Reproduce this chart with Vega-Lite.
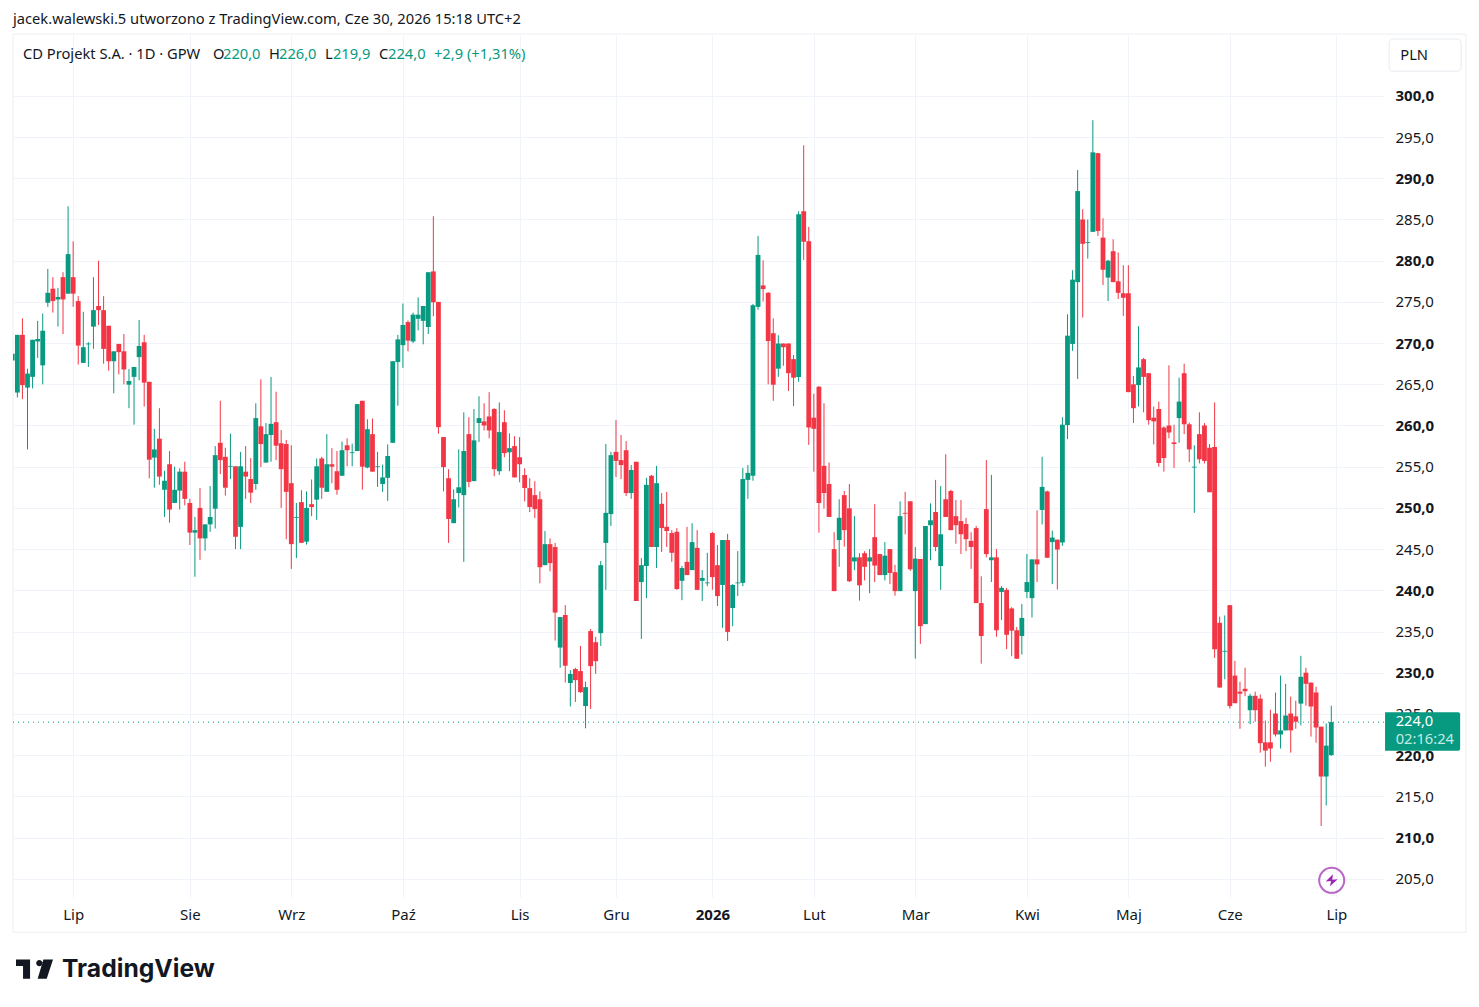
{
  "$schema": "https://vega.github.io/schema/vega-lite/v6.json",
  "background": "#ffffff",
  "autosize": {"type": "none"},
  "padding": {"left": 13, "top": 35, "right": 95, "bottom": 110},
  "width": 1371,
  "height": 862,
  "config": {"view": {"stroke": null}, "text": {"font": "Noto Sans"}},
  "datasets": {
    "candles": [
      {"i":0,"o":267.9,"h":268.7,"l":267.9,"c":268.7},{"i":1,"o":264.0,"h":271.0,"l":263.4,"c":271.0},{"i":2,"o":271.0,"h":273.0,"l":263.2,"c":264.9},{"i":3,"o":264.6,"h":266.9,"l":257.1,"c":266.3},{"i":4,"o":265.9,"h":270.4,"l":264.5,"c":270.4},{"i":5,"o":270.2,"h":272.7,"l":268.2,"c":270.5},{"i":6,"o":267.3,"h":273.6,"l":265.0,"c":271.5},{"i":7,"o":274.9,"h":279.0,"l":274.4,"c":276.1},{"i":8,"o":276.6,"h":278.0,"l":273.7,"c":275.1},{"i":9,"o":275.3,"h":276.7,"l":272.0,"c":275.6},
      {"i":10,"o":278.0,"h":278.6,"l":271.1,"c":275.3},{"i":11,"o":276.0,"h":286.6,"l":276.0,"c":280.8},{"i":12,"o":278.0,"h":282.35,"l":274.4,"c":276.0},{"i":13,"o":275.1,"h":275.7,"l":267.4,"c":269.7},{"i":14,"o":267.6,"h":273.8,"l":267.6,"c":269.5},{"i":15,"o":269.85,"h":270.1,"l":267.1,"c":269.95},{"i":16,"o":272.0,"h":278.0,"l":269.3,"c":274.0},{"i":17,"o":274.5,"h":280.0,"l":272.2,"c":274.0},{"i":18,"o":274.0,"h":275.7,"l":267.5,"c":269.3},{"i":19,"o":272.1,"h":272.1,"l":266.65,"c":267.8},
      {"i":20,"o":267.8,"h":269.0,"l":263.9,"c":269.0},{"i":21,"o":269.9,"h":269.9,"l":266.2,"c":268.9},{"i":22,"o":269.0,"h":271.1,"l":265.0,"c":266.8},{"i":23,"o":264.95,"h":266.85,"l":262.1,"c":265.4},{"i":24,"o":265.9,"h":267.1,"l":260.1,"c":267.1},{"i":25,"o":268.3,"h":272.8,"l":265.5,"c":269.65},{"i":26,"o":270.1,"h":271.0,"l":262.3,"c":265.2},{"i":27,"o":265.3,"h":265.3,"l":253.6,"c":255.85},{"i":28,"o":256.1,"h":259.6,"l":252.45,"c":257.1},{"i":29,"o":258.4,"h":262.1,"l":252.8,"c":253.8},
      {"i":30,"o":252.2,"h":254.5,"l":248.9,"c":253.3},{"i":31,"o":255.3,"h":256.9,"l":248.2,"c":249.8},{"i":32,"o":250.6,"h":255.0,"l":250.6,"c":252.2},{"i":33,"o":252.1,"h":254.8,"l":249.8,"c":254.4},{"i":34,"o":254.4,"h":255.6,"l":250.3,"c":251.1},{"i":35,"o":250.6,"h":251.1,"l":245.5,"c":247.0},{"i":36,"o":247.0,"h":248.9,"l":241.65,"c":247.3},{"i":37,"o":250.0,"h":252.4,"l":243.7,"c":246.3},{"i":38,"o":246.3,"h":248.0,"l":244.8,"c":248.0},{"i":39,"o":248.0,"h":252.65,"l":247.1,"c":248.9},
      {"i":40,"o":249.9,"h":257.5,"l":247.5,"c":256.4},{"i":41,"o":257.9,"h":263.0,"l":254.1,"c":255.8},{"i":42,"o":256.2,"h":257.3,"l":251.5,"c":252.45},{"i":43,"o":255.0,"h":259.0,"l":253.5,"c":255.1},{"i":44,"o":255.05,"h":255.05,"l":245.0,"c":246.5},{"i":45,"o":247.7,"h":256.8,"l":245.0,"c":255.05},{"i":46,"o":254.4,"h":257.5,"l":251.1,"c":253.8},{"i":47,"o":253.5,"h":256.05,"l":250.6,"c":251.85},{"i":48,"o":252.9,"h":262.7,"l":252.2,"c":260.9},{"i":49,"o":259.9,"h":265.6,"l":254.95,"c":257.75},
      {"i":50,"o":255.5,"h":260.3,"l":255.5,"c":258.95},{"i":51,"o":258.85,"h":265.9,"l":255.6,"c":260.2},{"i":52,"o":260.4,"h":264.1,"l":255.8,"c":257.55},{"i":53,"o":257.85,"h":259.45,"l":250.0,"c":254.7},{"i":54,"o":257.75,"h":258.25,"l":246.2,"c":251.95},{"i":55,"o":253.0,"h":257.6,"l":242.6,"c":245.6},{"i":56,"o":248.8,"h":250.6,"l":243.9,"c":248.9},{"i":57,"o":250.7,"h":252.15,"l":245.76,"c":245.76},{"i":58,"o":245.9,"h":252.0,"l":245.55,"c":250.0},{"i":59,"o":250.45,"h":253.45,"l":249.0,"c":250.1},
      {"i":60,"o":251.0,"h":256.0,"l":248.55,"c":255.05},{"i":61,"o":256.0,"h":256.2,"l":251.1,"c":252.45},{"i":62,"o":251.95,"h":258.95,"l":251.95,"c":255.3},{"i":63,"o":255.3,"h":257.25,"l":253.0,"c":255.0},{"i":64,"o":254.45,"h":256.9,"l":251.6,"c":252.2},{"i":65,"o":253.9,"h":258.05,"l":253.9,"c":257.0},{"i":66,"o":257.6,"h":258.45,"l":255.05,"c":257.0},{"i":67,"o":256.65,"h":257.8,"l":255.05,"c":256.75},{"i":68,"o":256.9,"h":262.6,"l":256.9,"c":262.6},{"i":69,"o":263.0,"h":263.0,"l":252.2,"c":255.0},
      {"i":70,"o":254.9,"h":260.75,"l":254.8,"c":259.55},{"i":71,"o":258.95,"h":260.85,"l":254.4,"c":254.4},{"i":72,"o":254.95,"h":256.8,"l":252.55,"c":255.05},{"i":73,"o":252.9,"h":255.25,"l":251.95,"c":253.7},{"i":74,"o":253.65,"h":257.7,"l":250.85,"c":256.3},{"i":75,"o":257.9,"h":267.8,"l":257.9,"c":267.8},{"i":76,"o":267.7,"h":271.0,"l":262.4,"c":270.45},{"i":77,"o":269.75,"h":274.8,"l":267.0,"c":272.2},{"i":78,"o":272.55,"h":272.75,"l":269.0,"c":270.3},{"i":79,"o":270.2,"h":273.7,"l":270.0,"c":273.45},
      {"i":80,"o":272.95,"h":275.55,"l":271.55,"c":273.45},{"i":81,"o":272.7,"h":274.5,"l":269.85,"c":274.5},{"i":82,"o":271.95,"h":278.6,"l":271.1,"c":278.6},{"i":83,"o":278.7,"h":285.4,"l":273.25,"c":274.95},{"i":84,"o":275.0,"h":275.0,"l":259.0,"c":259.8},{"i":85,"o":258.6,"h":258.6,"l":252.0,"c":254.95},{"i":86,"o":253.6,"h":254.7,"l":245.75,"c":248.65},{"i":87,"o":248.15,"h":252.25,"l":248.15,"c":251.05},{"i":88,"o":251.8,"h":257.1,"l":250.05,"c":252.5},{"i":89,"o":251.55,"h":261.6,"l":243.45,"c":256.9},
      {"i":90,"o":258.95,"h":261.0,"l":252.5,"c":253.15},{"i":91,"o":253.25,"h":262.0,"l":253.25,"c":258.2},{"i":92,"o":260.3,"h":263.55,"l":258.0,"c":260.9},{"i":93,"o":260.5,"h":262.7,"l":259.4,"c":260.0},{"i":94,"o":261.1,"h":264.05,"l":258.45,"c":259.4},{"i":95,"o":262.0,"h":262.1,"l":253.85,"c":254.7},{"i":96,"o":254.45,"h":262.8,"l":254.0,"c":259.2},{"i":97,"o":260.4,"h":261.85,"l":256.15,"c":256.65},{"i":98,"o":256.75,"h":259.05,"l":254.45,"c":257.25},{"i":99,"o":257.5,"h":258.7,"l":253.7,"c":253.7},
      {"i":100,"o":256.15,"h":258.6,"l":253.1,"c":255.3},{"i":101,"o":254.0,"h":254.8,"l":250.8,"c":252.4},{"i":102,"o":252.4,"h":253.6,"l":249.5,"c":250.1},{"i":103,"o":251.55,"h":253.25,"l":248.75,"c":249.85},{"i":104,"o":251.05,"h":252.0,"l":240.85,"c":242.8},{"i":105,"o":243.05,"h":247.2,"l":243.05,"c":245.6},{"i":106,"o":245.6,"h":246.3,"l":242.3,"c":243.3},{"i":107,"o":245.25,"h":245.75,"l":233.9,"c":237.3},{"i":108,"o":233.05,"h":236.75,"l":230.6,"c":236.75},{"i":109,"o":237.0,"h":238.2,"l":228.8,"c":230.85},
      {"i":110,"o":228.75,"h":230.3,"l":225.9,"c":229.85},{"i":111,"o":230.45,"h":230.6,"l":226.45,"c":229.1},{"i":112,"o":230.2,"h":233.25,"l":227.55,"c":227.65},{"i":113,"o":225.95,"h":228.9,"l":223.25,"c":228.25},{"i":114,"o":235.05,"h":235.3,"l":225.6,"c":230.8},{"i":115,"o":233.7,"h":234.35,"l":229.85,"c":231.4},{"i":116,"o":234.8,"h":243.55,"l":233.25,"c":243.05},{"i":117,"o":245.75,"h":257.75,"l":240.05,"c":249.4},{"i":118,"o":249.25,"h":256.8,"l":247.8,"c":256.4},{"i":119,"o":256.8,"h":260.65,"l":253.75,"c":255.7},
      {"i":120,"o":255.8,"h":258.85,"l":253.5,"c":255.2},{"i":121,"o":257.0,"h":258.1,"l":251.45,"c":251.8},{"i":122,"o":251.8,"h":255.2,"l":251.1,"c":254.6},{"i":123,"o":255.6,"h":255.6,"l":238.7,"c":238.7},{"i":124,"o":241.0,"h":243.9,"l":234.1,"c":243.05},{"i":125,"o":242.95,"h":253.65,"l":239.05,"c":252.8},{"i":126,"o":253.9,"h":254.0,"l":245.25,"c":245.25},{"i":127,"o":245.25,"h":255.1,"l":242.7,"c":253.0},{"i":128,"o":250.5,"h":251.8,"l":244.65,"c":247.55},{"i":129,"o":247.7,"h":251.95,"l":245.25,"c":247.2},
      {"i":130,"o":246.95,"h":247.3,"l":243.45,"c":244.55},{"i":131,"o":247.1,"h":247.55,"l":240.05,"c":240.15},{"i":132,"o":241.15,"h":242.95,"l":238.8,"c":242.7},{"i":133,"o":243.45,"h":247.7,"l":241.85,"c":241.85},{"i":134,"o":242.45,"h":248.15,"l":242.45,"c":245.85},{"i":135,"o":245.15,"h":247.3,"l":240.05,"c":240.05},{"i":136,"o":241.15,"h":242.45,"l":238.7,"c":241.5},{"i":137,"o":240.85,"h":244.55,"l":240.5,"c":240.95},{"i":138,"o":246.95,"h":247.1,"l":240.05,"c":241.6},{"i":139,"o":243.05,"h":245.5,"l":238.1,"c":239.3},
      {"i":140,"o":240.65,"h":246.1,"l":235.45,"c":246.1},{"i":141,"o":246.1,"h":246.85,"l":233.85,"c":234.95},{"i":142,"o":237.85,"h":240.75,"l":235.65,"c":240.65},{"i":143,"o":240.85,"h":244.75,"l":239.3,"c":240.95},{"i":144,"o":240.9,"h":254.85,"l":240.5,"c":253.5},{"i":145,"o":253.4,"h":255.2,"l":251.1,"c":254.25},{"i":146,"o":253.9,"h":274.75,"l":253.3,"c":274.6},{"i":147,"o":274.4,"h":283.0,"l":274.05,"c":280.7},{"i":148,"o":277.0,"h":280.05,"l":275.05,"c":276.55},{"i":149,"o":276.1,"h":276.2,"l":265.0,"c":270.25},
      {"i":150,"o":271.2,"h":273.0,"l":263.0,"c":264.95},{"i":151,"o":266.9,"h":270.95,"l":265.9,"c":269.95},{"i":152,"o":269.95,"h":269.95,"l":267.25,"c":269.5},{"i":153,"o":269.95,"h":269.95,"l":264.2,"c":266.35},{"i":154,"o":268.05,"h":268.55,"l":262.35,"c":265.8},{"i":155,"o":265.9,"h":286.0,"l":265.3,"c":285.65},{"i":156,"o":286.0,"h":294.0,"l":280.1,"c":282.3},{"i":157,"o":282.35,"h":284.1,"l":257.65,"c":259.75},{"i":158,"o":260.95,"h":263.85,"l":254.4,"c":259.6},{"i":159,"o":264.7,"h":264.8,"l":247.0,"c":250.6},
      {"i":160,"o":255.1,"h":262.7,"l":249.9,"c":251.8},{"i":161,"o":252.9,"h":255.5,"l":248.9,"c":248.9},{"i":162,"o":245.0,"h":247.05,"l":239.9,"c":239.9},{"i":163,"o":246.1,"h":251.05,"l":242.85,"c":248.8},{"i":164,"o":251.55,"h":252.05,"l":245.3,"c":247.3},{"i":165,"o":249.95,"h":252.9,"l":241.0,"c":241.1},{"i":166,"o":243.5,"h":249.0,"l":242.45,"c":244.0},{"i":167,"o":244.0,"h":244.5,"l":238.75,"c":240.6},{"i":168,"o":244.5,"h":244.75,"l":241.2,"c":242.85},{"i":169,"o":243.5,"h":245.0,"l":239.65,"c":244.0},
      {"i":170,"o":246.45,"h":250.45,"l":241.0,"c":243.0},{"i":171,"o":244.4,"h":244.4,"l":241.85,"c":241.85},{"i":172,"o":241.85,"h":245.85,"l":241.2,"c":244.2},{"i":173,"o":245.0,"h":245.0,"l":240.75,"c":242.1},{"i":174,"o":242.2,"h":243.1,"l":239.35,"c":239.9},{"i":175,"o":239.9,"h":250.8,"l":239.9,"c":249.0},{"i":176,"o":249.4,"h":251.95,"l":246.8,"c":249.3},{"i":177,"o":250.8,"h":250.8,"l":242.35,"c":242.55},{"i":178,"o":239.9,"h":245.25,"l":231.7,"c":243.85},{"i":179,"o":243.8,"h":243.8,"l":233.5,"c":235.65},
      {"i":180,"o":235.9,"h":247.8,"l":235.9,"c":247.8},{"i":181,"o":247.9,"h":250.55,"l":243.65,"c":248.5},{"i":182,"o":249.5,"h":253.4,"l":244.75,"c":245.25},{"i":183,"o":242.95,"h":252.65,"l":240.05,"c":246.8},{"i":184,"o":251.05,"h":256.5,"l":248.9,"c":248.9},{"i":185,"o":252.05,"h":252.2,"l":247.3,"c":247.3},{"i":186,"o":249.0,"h":250.95,"l":245.65,"c":247.9},{"i":187,"o":248.4,"h":250.95,"l":244.4,"c":246.8},{"i":188,"o":248.05,"h":248.8,"l":244.75,"c":246.2},{"i":189,"o":246.0,"h":247.05,"l":242.6,"c":245.25},
      {"i":190,"o":247.55,"h":247.8,"l":238.45,"c":238.45},{"i":191,"o":238.45,"h":241.7,"l":231.1,"c":234.45},{"i":192,"o":249.85,"h":255.8,"l":244.0,"c":244.4},{"i":193,"o":243.65,"h":254.0,"l":241.0,"c":244.0},{"i":194,"o":244.0,"h":245.0,"l":234.35,"c":235.15},{"i":195,"o":239.8,"h":240.5,"l":236.4,"c":240.3},{"i":196,"o":240.05,"h":240.3,"l":232.85,"c":234.6},{"i":197,"o":237.8,"h":237.95,"l":232.0,"c":235.1},{"i":198,"o":235.15,"h":235.55,"l":231.7,"c":231.7},{"i":199,"o":234.45,"h":238.35,"l":232.2,"c":236.65},
      {"i":200,"o":239.8,"h":244.4,"l":239.05,"c":241.0},{"i":201,"o":239.05,"h":243.75,"l":236.7,"c":243.75},{"i":202,"o":243.75,"h":249.7,"l":241.0,"c":243.15},{"i":203,"o":249.75,"h":256.2,"l":248.0,"c":252.55},{"i":204,"o":252.0,"h":252.1,"l":243.95,"c":243.95},{"i":205,"o":245.85,"h":247.25,"l":240.75,"c":246.4},{"i":206,"o":246.15,"h":246.15,"l":240.1,"c":244.95},{"i":207,"o":245.8,"h":261.0,"l":245.4,"c":260.1},{"i":208,"o":260.05,"h":273.5,"l":258.35,"c":270.9},{"i":209,"o":269.9,"h":278.85,"l":269.05,"c":277.7},
      {"i":210,"o":277.4,"h":291.0,"l":265.65,"c":288.45},{"i":211,"o":285.0,"h":286.25,"l":273.1,"c":282.05},{"i":212,"o":282.15,"h":285.0,"l":280.25,"c":282.25},{"i":213,"o":283.5,"h":297.05,"l":283.5,"c":293.15},{"i":214,"o":293.05,"h":293.05,"l":283.0,"c":283.6},{"i":215,"o":282.8,"h":285.15,"l":277.05,"c":278.9},{"i":216,"o":277.95,"h":280.1,"l":275.1,"c":280.0},{"i":217,"o":281.15,"h":282.6,"l":277.4,"c":277.4},{"i":218,"o":277.5,"h":281.0,"l":275.35,"c":276.1},{"i":219,"o":276.05,"h":279.45,"l":273.3,"c":275.5},
      {"i":220,"o":276.05,"h":279.45,"l":264.05,"c":264.05},{"i":221,"o":265.0,"h":266.0,"l":260.3,"c":262.1},{"i":222,"o":264.9,"h":272.05,"l":262.3,"c":267.05},{"i":223,"o":268.05,"h":268.2,"l":261.6,"c":265.9},{"i":224,"o":266.35,"h":266.35,"l":260.1,"c":260.65},{"i":225,"o":260.95,"h":262.3,"l":257.7,"c":260.5},{"i":226,"o":262.0,"h":262.9,"l":255.0,"c":255.45},{"i":227,"o":259.75,"h":259.9,"l":254.4,"c":256.05},{"i":228,"o":260.0,"h":267.3,"l":258.45,"c":259.15},{"i":229,"o":257.95,"h":260.1,"l":254.85,"c":257.75},
      {"i":230,"o":260.9,"h":265.8,"l":257.9,"c":262.9},{"i":231,"o":266.35,"h":267.5,"l":258.95,"c":260.15},{"i":232,"o":260.15,"h":260.35,"l":255.55,"c":257.1},{"i":233,"o":254.9,"h":257.6,"l":249.4,"c":255.0},{"i":234,"o":258.95,"h":261.6,"l":255.4,"c":255.9},{"i":235,"o":260.0,"h":260.3,"l":255.4,"c":255.7},{"i":236,"o":257.3,"h":257.75,"l":251.9,"c":251.9},{"i":237,"o":257.4,"h":262.8,"l":231.8,"c":232.85},{"i":238,"o":236.05,"h":236.8,"l":228.2,"c":228.2},{"i":239,"o":232.55,"h":236.95,"l":229.2,"c":232.65},
      {"i":240,"o":238.2,"h":238.2,"l":225.65,"c":225.95},{"i":241,"o":229.65,"h":231.45,"l":226.3,"c":226.3},{"i":242,"o":227.7,"h":228.9,"l":223.2,"c":227.45},{"i":243,"o":228.05,"h":230.6,"l":227.15,"c":227.75},{"i":244,"o":225.45,"h":227.45,"l":223.75,"c":227.2},{"i":245,"o":227.2,"h":227.7,"l":224.05,"c":225.45},{"i":246,"o":226.85,"h":227.35,"l":220.3,"c":221.45},{"i":247,"o":221.55,"h":224.2,"l":218.6,"c":220.55},{"i":248,"o":221.55,"h":225.5,"l":219.2,"c":220.8},{"i":249,"o":225.05,"h":227.6,"l":222.25,"c":222.5},
      {"i":250,"o":222.5,"h":229.65,"l":220.8,"c":223.0},{"i":251,"o":223.0,"h":228.65,"l":223.0,"c":224.8},{"i":252,"o":225.05,"h":227.1,"l":220.3,"c":223.0},{"i":253,"o":224.7,"h":226.6,"l":223.2,"c":224.05},{"i":254,"o":226.25,"h":232.05,"l":223.6,"c":229.5},{"i":255,"o":230.0,"h":230.6,"l":226.0,"c":228.65},{"i":256,"o":228.8,"h":228.8,"l":222.25,"c":225.9},{"i":257,"o":227.6,"h":228.3,"l":221.5,"c":223.35},{"i":258,"o":223.45,"h":223.45,"l":211.4,"c":217.4},{"i":259,"o":217.4,"h":223.85,"l":213.9,"c":221.15},
      {"i":260,"o":220.0,"h":226.0,"l":219.9,"c":224.0}
    ],
    "notes": [
      {"label":"jacek.walewski.5 utworzono z TradingView.com, Cze 30, 2026 15:18 UTC+2","i":0.14,"p":309.2,"kind":"ink"},
      {"label":"CD Projekt S.A. · 1D · GPW","i":2.11,"p":304.96,"kind":"ink"},
      {"label":"O","i":39.56,"p":304.96,"kind":"ink"},
      {"label":"220,0","i":41.53,"p":304.96,"kind":"up"},
      {"label":"H","i":50.6,"p":304.96,"kind":"ink"},
      {"label":"226,0","i":52.57,"p":304.96,"kind":"up"},
      {"label":"L","i":61.64,"p":304.96,"kind":"ink"},
      {"label":"219,9","i":63.2,"p":304.96,"kind":"up"},
      {"label":"C","i":72.28,"p":304.96,"kind":"ink"},
      {"label":"224,0","i":74.06,"p":304.96,"kind":"up"},
      {"label":"+2,9 (+1,31%)","i":83.12,"p":304.96,"kind":"up"},
      {"label":"PLN","i":273.6,"p":304.85,"kind":"ink"},
      {"label":"224,0","i":272.7,"p":224.0,"kind":"box"},
      {"label":"02:16:24","i":272.7,"p":221.85,"kind":"timer"}
    ]
  },
  "data": {"name": "candles"},
  "layer": [
    {
      "data": {"values": [{"x": 0.14, "x2": 286.55, "y": 307.5, "y2": 198.5}]},
      "mark": {"type": "rect", "fillOpacity": 0, "stroke": "#eceef2", "strokeWidth": 1},
      "encoding": {
        "x": {
          "field": "x",
          "type": "quantitative",
          "scale": {"domain": [0.14, 270.39], "nice": false, "zero": false, "padding": 0},
          "title": null,
          "axis": {
            "values": [12, 35, 55, 77, 100, 119, 138, 158, 178, 200, 220, 240, 261],
            "labelExpr": "{'12':'Lip','35':'Sie','55':'Wrz','77':'Paź','100':'Lis','119':'Gru','138':'2026','158':'Lut','178':'Mar','200':'Kwi','220':'Maj','240':'Cze','261':'Lip'}[datum.value]",
            "grid": true,
            "gridColor": "#f0f3fa",
            "gridWidth": 1,
            "domain": false,
            "ticks": false,
            "labelFont": "Noto Sans",
            "labelFontSize": 15,
            "labelColor": "#131722",
            "labelPadding": 10,
            "labelFlush": false,
            "labelOverlap": false,
            "labelFontWeight": {"condition": {"test": "datum.value === 138", "value": "bold"}, "value": "normal"}
          }
        },
        "x2": {"field": "x2"},
        "y": {
          "field": "y",
          "type": "quantitative",
          "scale": {"domain": [202.78, 307.39], "nice": false, "zero": false},
          "title": null,
          "axis": {
            "orient": "right",
            "values": [205, 210, 215, 220, 225, 230, 235, 240, 245, 250, 255, 260, 265, 270, 275, 280, 285, 290, 295, 300],
            "labelExpr": "replace(format(datum.value, '.1f'), '.', ',')",
            "grid": true,
            "gridColor": "#f0f3fa",
            "gridWidth": 1,
            "domain": false,
            "ticks": false,
            "labelFont": "Noto Sans",
            "labelFontSize": 15,
            "labelColor": "#131722",
            "labelPadding": 11,
            "labelOverlap": false,
            "labelFlush": false,
            "labelFontWeight": {"condition": {"test": "datum.value % 10 === 0", "value": "bold"}, "value": "normal"}
          }
        },
        "y2": {"field": "y2"}
      }
    },
    {
      "mark": {"type": "rule", "strokeWidth": 1, "clip": true},
      "encoding": {
        "x": {"field": "i", "type": "quantitative"},
        "y": {"field": "l", "type": "quantitative"},
        "y2": {"field": "h"},
        "color": {"condition": {"test": "datum.c >= datum.o", "value": "#089981"}, "value": "#f23645"}
      }
    },
    {
      "mark": {"type": "bar", "size": 4.8, "clip": true},
      "encoding": {
        "x": {"field": "i", "type": "quantitative"},
        "y": {"field": "o", "type": "quantitative"},
        "y2": {"field": "c"},
        "color": {"condition": {"test": "datum.c >= datum.o", "value": "#089981"}, "value": "#f23645"}
      }
    },
    {
      "data": {"values": [{"p": 224.0}]},
      "mark": {"type": "rule", "stroke": "#089981", "strokeWidth": 1, "strokeDash": [1, 4]},
      "encoding": {"y": {"field": "p", "type": "quantitative"}}
    },
    {
      "data": {"values": [{"x": 271.4, "x2": 285.6, "y": 306.9, "y2": 303.0}]},
      "mark": {"type": "rect", "fill": "#ffffff", "stroke": "#e8eaf0", "strokeWidth": 1, "cornerRadius": 4},
      "encoding": {
        "x": {"field": "x", "type": "quantitative"},
        "x2": {"field": "x2"},
        "y": {"field": "y", "type": "quantitative"},
        "y2": {"field": "y2"}
      }
    },
    {
      "data": {"values": [{"x": 270.6, "x2": 285.4, "y": 225.2, "y2": 220.53}]},
      "mark": {"type": "rect", "fill": "#089981", "cornerRadiusTopRight": 2, "cornerRadiusBottomRight": 2},
      "encoding": {
        "x": {"field": "x", "type": "quantitative"},
        "x2": {"field": "x2"},
        "y": {"field": "y", "type": "quantitative"},
        "y2": {"field": "y2"}
      }
    },
    {
      "data": {"name": "notes"},
      "mark": {"type": "text", "align": "left", "baseline": "middle", "fontSize": 14.7},
      "encoding": {
        "x": {"field": "i", "type": "quantitative"},
        "y": {"field": "p", "type": "quantitative"},
        "text": {"field": "label"},
        "color": {
          "field": "kind",
          "type": "nominal",
          "scale": {"domain": ["ink", "up", "box", "timer"], "range": ["#131722", "#089981", "#ffffff", "#c4ebe3"]},
          "legend": null
        }
      }
    },
    {
      "data": {"values": [{"i": 260.08, "p": 204.8}]},
      "mark": {"type": "point", "shape": "circle", "size": 625, "filled": false, "stroke": "#9c27b0", "strokeWidth": 2},
      "encoding": {"x": {"field": "i", "type": "quantitative"}, "y": {"field": "p", "type": "quantitative"}}
    },
    {
      "data": {"values": [{"i": 260.08, "p": 204.8}]},
      "mark": {"type": "point", "shape": "M0.2,-1 L-1,0.2 L-0.1,0.1 L-0.3,1 L1,-0.2 L0.1,-0.1 Z", "size": 144, "filled": true, "fill": "#9c27b0", "opacity": 1},
      "encoding": {"x": {"field": "i", "type": "quantitative"}, "y": {"field": "p", "type": "quantitative"}}
    },
    {
      "data": {"values": [{"i": 4.38, "p": 194.06}]},
      "mark": {"type": "point", "shape": "M-1,-0.51 L-0.24,-0.51 L-0.24,0.54 L-0.62,0.54 L-0.62,-0.16 L-1,-0.16 Z M0.09,-0.31 A0.17,0.17 0 1 0 0.43,-0.31 A0.17,0.17 0 1 0 0.09,-0.31 Z M0.48,-0.51 L1,-0.51 L0.66,0.54 L0.17,0.54 Z", "size": 1369, "filled": true, "fill": "#131722", "opacity": 1},
      "encoding": {"x": {"field": "i", "type": "quantitative"}, "y": {"field": "p", "type": "quantitative"}}
    },
    {
      "data": {"values": [{"label": "TradingView", "i": 9.8, "p": 193.92}]},
      "mark": {"type": "text", "align": "left", "baseline": "middle", "fontSize": 24.7, "fontWeight": "bold", "font": "Inter", "color": "#131722"},
      "encoding": {
        "x": {"field": "i", "type": "quantitative"},
        "y": {"field": "p", "type": "quantitative"},
        "text": {"field": "label"}
      }
    }
  ]
}
